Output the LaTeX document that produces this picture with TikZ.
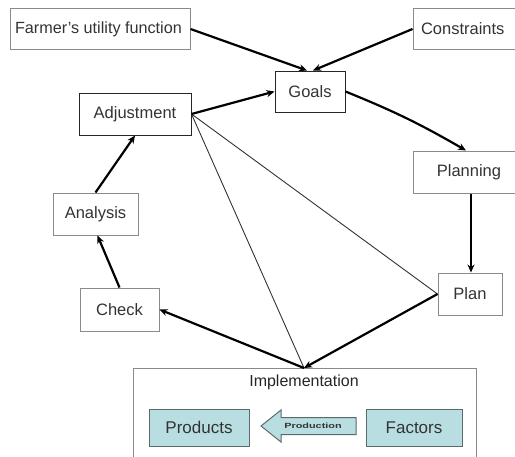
\documentclass[tikz,border=0pt]{standalone}
\usepackage{fontspec}
\setmainfont{Liberation Sans}
\usetikzlibrary{arrows.meta}
\definecolor{boxgray}{HTML}{8A8A8A}
\definecolor{txtgray}{HTML}{333333}
\definecolor{teal}{HTML}{B8DEE1}
\definecolor{tealedge}{HTML}{5A6A6C}
\begin{document}
\begin{tikzpicture}[x=1pt,y=-1pt,
  box/.style={draw=boxgray,line width=1pt,fill=white,minimum height=41pt,
    text=txtgray,font=\fontsize{16.5}{18}\selectfont,inner sep=2pt},
  darkbox/.style={box,draw=black!85},
  tealbox/.style={draw=tealedge,line width=1pt,fill=teal,minimum height=37pt,
    text=txtgray,font=\fontsize{17}{19}\selectfont},
  flow/.style={line width=2.2pt,-{Stealth[length=8pt,width=7pt]}},
  link/.style={line width=0.9pt,black!80}]
\useasboundingbox (0,0) rectangle (515,456);
\fill[white] (0,0) rectangle (515,456);

% implementation frame, open at the bottom
\draw[boxgray,line width=1pt] (133,470) -- (133,368) -- (476,368) -- (476,470);
\coordinate (impl) at (304,368);
\node[font=\fontsize{16}{18}\selectfont,text=black!85] (impltext) at (304,382) {Implementation};
\node[tealbox,minimum width=100pt] (products) at (199,427.5) {Products};
\node[tealbox,minimum width=96pt] (factors) at (414,427.5) {Factors};
% block arrow labelled Production
\draw[tealedge,fill=teal,line width=1pt]
  (261,426) -- (281,410) -- (281,417.5) -- (356,417.5) -- (356,434.5)
  -- (281,434.5) -- (281,442) -- cycle;
\node[font=\bfseries\fontsize{7.5}{8}\selectfont,text=txtgray] (prodlabel) at (313,425.5)
  {\scalebox{1.45}[1]{Production}};

% process boxes
\node[box,minimum width=180pt] (farmer) at (100,29) {};
\begin{scope}
  \clip (farmer.north west) rectangle (farmer.south east);
  \node[anchor=west,text=txtgray,font=\fontsize{16.2}{18}\selectfont] (farmertext)
    at ([xshift=2pt]farmer.west) {Farmer's utility function};
\end{scope}
\node[box,minimum width=120pt,text width=104pt] (constraints) at (473,29) {Constraints};
\node[darkbox,minimum width=70pt] (goals) at (310,91.5) {Goals};
\node[darkbox,minimum width=112pt,minimum height=42pt] (adjust) at (135,114) {Adjustment};
\node[box,minimum width=112pt,minimum height=42pt] (planning) at (469,172) {Planning};
\node[box,minimum width=85pt,minimum height=42pt] (analysis) at (95.5,214) {Analysis};
\node[box,minimum width=64pt,minimum height=42pt] (plan) at (470,294) {Plan};
\node[box,minimum width=79pt,minimum height=43pt] (check) at (119.5,309.5) {Check};

% thin links from Adjustment
\draw[link] (adjust.east) -- (plan.west);
\draw[link] (adjust.east) -- (impl);

% main cycle
\draw[flow] (farmer.east) -- ([xshift=-3pt]goals.north);
\draw[flow] (constraints.west) -- ([xshift=3pt]goals.north);
\draw[flow] (adjust.east) -- (goals.west);
\draw[flow] (goals.east) to[bend left=4] ([xshift=-3pt]planning.north);
\draw[flow] ([xshift=2pt]planning.south) -- ([xshift=1pt]plan.north);
\draw[flow] (plan.west) -- (impl);
\draw[flow] (impl) -- (check.east);
\draw[flow] (check.north) -- ([xshift=2pt]analysis.south);
\draw[flow] (analysis.north) -- (adjust.south);
\end{tikzpicture}
\end{document}
